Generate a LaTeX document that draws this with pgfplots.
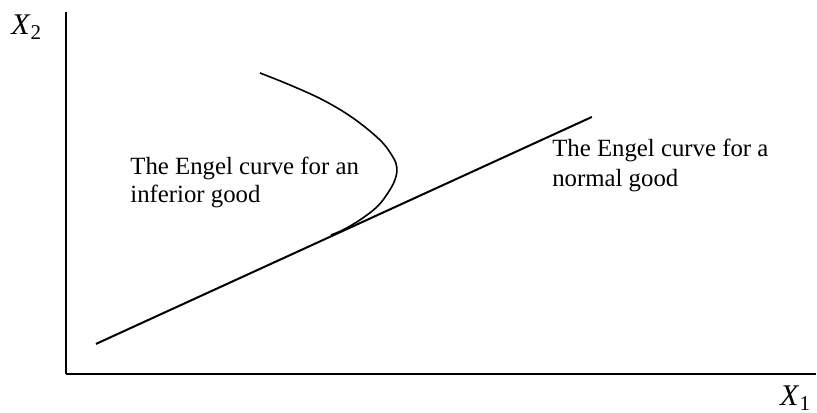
\documentclass[border=0pt]{standalone}
\usepackage{pgfplots}
\pgfplotsset{compat=1.18}
\usepackage{fontspec}
\setmainfont{Liberation Serif}
\begin{document}
\begin{tikzpicture}
\begin{axis}[
  x=0.5pt, y=0.5pt,
  xmin=66, xmax=816, ymin=39, ymax=401,
  axis lines=left,
  axis line style={-, line width=1.2pt, black},
  xtick=\empty, ytick=\empty,
  clip=false,
  scale only axis,
]
\useasboundingbox (axis cs:0,0) rectangle (axis cs:817,413);
% normal good
\addplot[black, line width=1pt] coordinates {(96,69) (592,296)};
% inferior good
\addplot[black, line width=0.8pt, smooth, tension=0.6] coordinates {
(260,340) (290,328) (323,313) (353,295) (380,273) (393,256) (397,245)
(395,233) (388,220) (377,206) (360,193) (343,183) (331,178)};
\node[anchor=base west, inner sep=0pt, font=\fontsize{12.4}{14}\selectfont] at (axis cs:130,238) {The Engel curve for an};
\node[anchor=base west, inner sep=0pt, font=\fontsize{12.4}{14}\selectfont] at (axis cs:130,210) {inferior good};
\node[anchor=base west, inner sep=0pt, font=\fontsize{12.4}{14}\selectfont] at (axis cs:552,256) {The Engel curve for a};
\node[anchor=base west, inner sep=0pt, font=\fontsize{12.4}{14}\selectfont] at (axis cs:552,226) {normal good};
\node[anchor=base west, inner sep=0pt, font=\fontsize{15}{15}\selectfont] at (axis cs:11,378) {\textit{X}\raisebox{-0.35ex}{\fontsize{10.5}{10.5}\selectfont 2}};
\node[anchor=base west, inner sep=0pt, font=\fontsize{15}{15}\selectfont] at (axis cs:780,7) {\textit{X}\raisebox{-0.35ex}{\fontsize{10.5}{10.5}\selectfont 1}};
\end{axis}
\end{tikzpicture}
\end{document}
